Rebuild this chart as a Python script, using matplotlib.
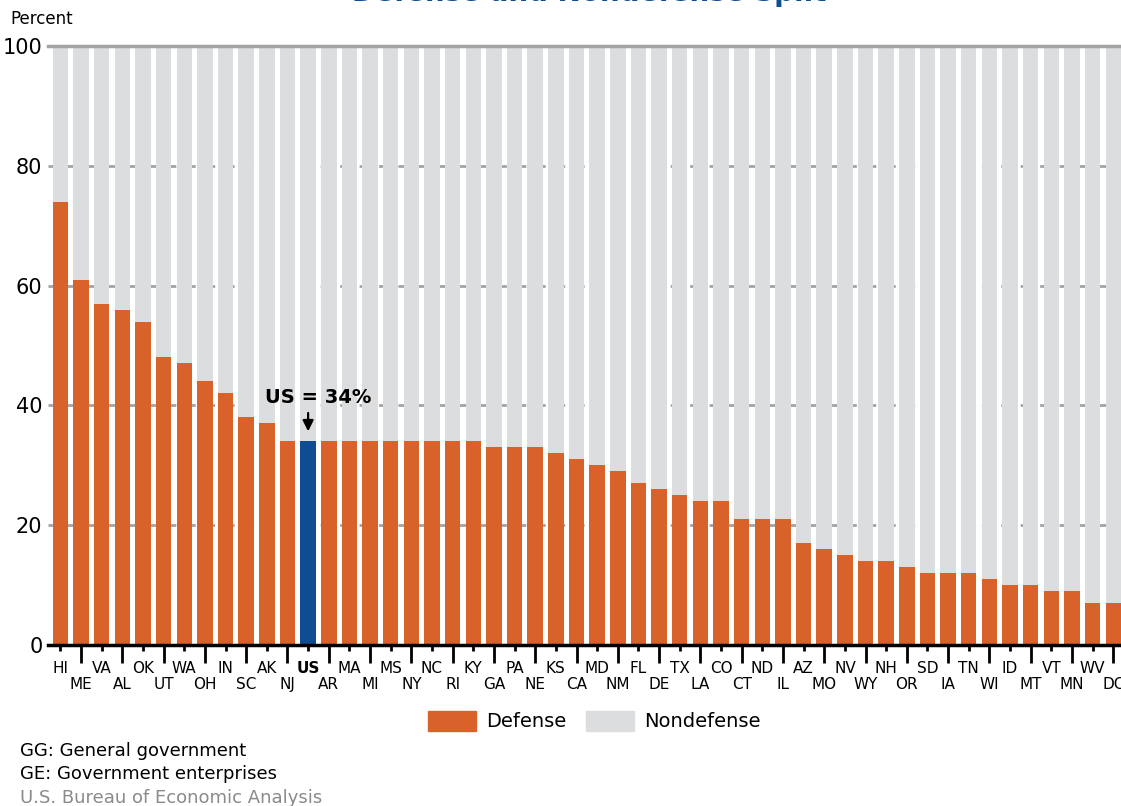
import matplotlib
matplotlib.use('Agg')

import numpy as np
import matplotlib.pyplot as plt
from matplotlib.patches import Patch

# dados
estados = ['HI', 'ME', 'VA', 'AL', 'OK', 'UT', 'WA', 'OH', 'IN', 'SC', 'AK', 'NJ', 'US',
           'AR', 'MA', 'MI', 'MS', 'NY', 'NC', 'RI', 'KY', 'GA', 'PA', 'NE', 'KS', 'CA',
           'MD', 'NM', 'FL', 'DE', 'TX', 'LA', 'CO', 'CT', 'ND', 'IL', 'AZ', 'MO', 'NV',
           'WY', 'NH', 'OR', 'SD', 'IA', 'TN', 'WI', 'ID', 'MT', 'VT', 'MN', 'WV', 'DC']
defesa = [74, 61, 57, 56, 54, 48, 47, 44, 42, 38, 37, 34, 34,
          34, 34, 34, 34, 34, 34, 34, 34, 33, 33, 33, 32, 31,
          30, 29, 27, 26, 25, 24, 24, 21, 21, 21, 17, 16, 15,
          14, 14, 13, 12, 12, 12, 11, 10, 10, 9, 9, 7, 7]
nao_defesa = [100 - v for v in defesa]
yticks = [0, 20, 40, 60, 80, 100]

cor_def = '#d9622b'
cor_nd = '#dcdddf'
cor_us = '#0e4d92'
cor_grade = '#a3a3a3'

plt.rcParams['font.family'] = ['DejaVu Sans']

fig = plt.figure(figsize=(11.21, 8.06), dpi=100)
ax = fig.add_axes([48 / 1121, 1 - 645 / 806, 1 - 48 / 1121, (645 - 46) / 806])

x = np.arange(len(estados))
cores = [cor_us if e == 'US' else cor_def for e in estados]
ax.bar(x, defesa, width=0.75, color=cores, zorder=2)
ax.bar(x, nao_defesa, width=0.75, bottom=defesa, color=cor_nd, zorder=2)

ax.set_xlim(-0.6, len(estados) - 1 + 0.375)
ax.set_ylim(0, 100)

# grade horizontal
for v in yticks[1:]:
    if v == 100:
        ax.axhline(v, color=cor_grade, lw=2.5, zorder=3, clip_on=False)
    else:
        ax.axhline(v, color=cor_grade, lw=2, ls=(0, (4, 3)), zorder=1)

for s in ['top', 'right', 'left']:
    ax.spines[s].set_visible(False)
ax.spines['bottom'].set_linewidth(2.5)
ax.spines['bottom'].set_zorder(4)

ax.set_yticks(yticks)
ax.set_yticklabels([str(v) for v in yticks], fontsize=15)
ax.tick_params(axis='y', length=0, pad=4)

# rótulos em duas linhas
ax.set_xticks(x[::2])
ax.set_xticklabels(estados[::2], fontsize=11)
ax.set_xticks(x[1::2], minor=True)
ax.set_xticklabels(estados[1::2], minor=True, fontsize=11)
ax.tick_params(axis='x', which='major', length=4.5, width=2, pad=7)
ax.tick_params(axis='x', which='minor', length=13, width=2, pad=10)
for lbl in ax.get_xticklabels():
    if lbl.get_text() == 'US':
        lbl.set_fontweight('bold')

# destaque do US
i_us = estados.index('US')
ax.annotate('', xy=(i_us, defesa[i_us] + 1.2), xytext=(i_us, 39.2),
            arrowprops=dict(arrowstyle='-|>', color='black', lw=1.6, mutation_scale=16),
            zorder=5)
ax.text(i_us + 0.5, 40.4, 'US = 34%', ha='center', va='baseline',
        fontsize=14, fontweight='bold', zorder=5)

fig.text(10 / 1121, 1 - 19 / 806, 'Percent', fontsize=12, va='center', ha='left')
fig.text(589 / 1121, 1 - 1 / 806, 'Defense and Nondefense Split', fontsize=20,
         fontweight='bold', color=cor_us, ha='center', va='baseline')

handles = [Patch(color=cor_def, label='Defense'), Patch(color=cor_nd, label='Nondefense')]
fig.legend(handles=handles, loc='center', bbox_to_anchor=(594 / 1121, 1 - 721 / 806),
           ncol=2, frameon=False, fontsize=14, handlelength=2.5, handleheight=1.25,
           handletextpad=0.5, columnspacing=1.0)

fig.text(20 / 1121, 1 - 751 / 806, 'GG: General government', fontsize=13, va='center')
fig.text(20 / 1121, 1 - 774 / 806, 'GE: Government enterprises', fontsize=13, va='center')
fig.text(20 / 1121, 1 - 798 / 806, 'U.S. Bureau of Economic Analysis', fontsize=13,
         va='center', color='#8a8a8a')

fig.savefig('out.png', dpi=100)
